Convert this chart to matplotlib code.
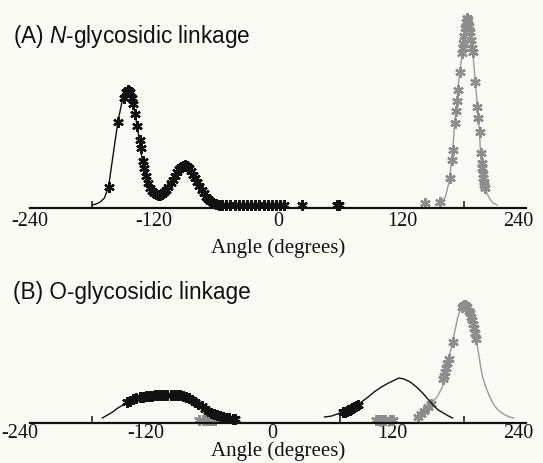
import numpy as np
import matplotlib
matplotlib.use("Agg")
import matplotlib.pyplot as plt
from matplotlib.transforms import ScaledTranslation

plt.rcParams["mathtext.fontset"] = "custom"
plt.rcParams["mathtext.rm"] = "Liberation Sans"
plt.rcParams["mathtext.it"] = "Liberation Sans:italic"

# ---------------- data (angle in degrees, relative density in a.u.) ----------------
tick_values = [-240, -120, 0, 120, 240]
tick_labels = ["-240", "-120", "0", "120", "240"]
minor_ticks = [-180, -120, 0, 60, 120, 180]

# Panel A: N-glycosidic linkage
a_black_x = [-180, -176, -172, -168, -164, -160, -155, -151, -148, -145, -142, -139, -136,
             -132, -128, -124, -120, -116, -112, -107, -102, -97, -93, -90, -87, -83, -79,
             -75, -71, -67, -62, -56, -45, -30, -15, 0]
a_black_y = [3, 4, 6, 10, 21, 50, 86, 106, 114, 118, 114, 98, 80,
             52, 30, 19, 15, 13, 14, 19, 28, 37, 42, 43, 41, 35, 27,
             20, 13, 8, 5, 3, 3, 2.5, 2.5, 2.5]
a_black_mx = [-164, -155, -149, -147, -145, -144, -143, -141, -140, -138, -136, -134, -133,
              -131, -130, -128, -126, -124, -122, -120, -118, -116, -114, -112, -110, -108,
              -106, -104, -102, -100, -98, -96, -94, -92, -90, -88, -86, -84, -82, -80, -78,
              -76, -74, -72, -70, -68, -66, -63, -60, -57, -54, -50, -46, -42, -38, -34, -30,
              -26, -22, -18, -14, -10, -6, -2, 2, 6, 23, 57, 59]
a_black_my = [21, 86, 110, 116, 118, 117, 116, 110, 104, 94, 82, 68, 60,
              47, 40, 32, 25, 20, 17, 15, 14, 13, 13, 14, 16, 18,
              21, 25, 28, 32, 36, 39, 41, 42.5, 43, 42, 40, 37, 33, 30, 26,
              22, 18, 15, 11, 9, 7, 5, 4, 3, 3, 3, 3, 3, 3, 3, 3,
              3, 3, 3, 3, 3, 3, 3, 3, 3, 3, 3, 3]

a_gray_x = [152, 157, 162, 166, 169, 171, 173, 174, 176, 179, 181, 183, 185, 188, 191, 193,
            194, 195, 196, 197, 198, 200, 202, 205, 208, 212]
a_gray_y = [3, 6, 11, 28, 58, 85, 105, 118, 136, 161, 183, 191, 180, 161, 126, 101,
            88, 75, 55, 41, 30, 21, 15, 9, 5, 3]
a_gray_mx = [142, 157, 166, 168, 169, 171, 172, 173, 174, 176, 178, 179, 179.5, 180, 181, 182,
             183, 184, 185, 186, 187, 188, 188.5, 191, 193, 194, 195, 196, 197, 197.5, 198,
             198.5, 199, 199.5, 200]
a_gray_my = [5, 6, 30, 48, 58, 85, 97, 107, 118, 136, 155, 160, 165, 172, 180, 186,
             190, 188, 182, 176, 168, 160, 156, 126, 101, 90, 76, 55, 45, 40, 34,
             30, 26, 23, 20]

# Panel B: O-glycosidic linkage
b_black1_x = [-170, -165, -160, -155, -150, -146, -140, -134, -126, -117, -110, -102, -95,
              -88, -82, -78, -74, -69, -64, -59, -54, -48, -42]
b_black1_y = [5, 8, 11, 15, 18, 21, 24, 26, 27, 28, 28.5, 28, 28,
              26, 23, 20, 17, 13, 10, 8, 6, 5, 4]
b_black1_mx = [-146, -143, -140, -137, -134, -131, -128, -125, -122, -119, -116, -113, -110,
               -107, -104, -101, -98, -95, -92, -89, -86, -83, -80, -77, -74, -71, -68,
               -65, -62, -59, -56, -53, -50, -47, -44, -42]
b_black1_my = [21, 22.5, 24, 25, 26, 26.5, 26.8, 27, 27.3, 27.6, 28, 28.2, 28.5,
               28.3, 28.1, 28, 28, 28, 27.5, 26.5, 25, 23, 21, 19, 17, 14.5, 12.5,
               10.5, 9, 8, 7, 6, 5.5, 5, 4.5, 4]

b_black2_x = [45, 52, 60, 66, 72, 78, 86, 93, 100, 107, 113, 117, 122, 128, 134, 140, 145,
              150, 155, 160, 165, 169]
b_black2_y = [6, 7, 10, 12, 15, 19, 25, 31, 36, 40, 43, 45, 44, 41, 36, 30, 24,
              18, 13, 10, 7, 5]
b_black2_mx = [63, 65, 67, 68, 70, 71, 72, 74, 75, 77]
b_black2_my = [11, 11.5, 12, 13, 13.5, 14, 15, 16, 17, 18]

b_gray_x = [133, 137, 140, 144, 147, 150, 154, 157, 159, 161, 163, 166, 169, 172, 174, 176,
            178, 181, 184, 186, 188, 191, 194, 196, 198, 201, 205, 209, 213, 218, 224, 228]
b_gray_y = [5, 8, 11, 15, 18, 22, 26, 32, 36, 45, 56, 68, 81, 96, 106, 112,
            116, 118, 115, 110, 105, 90, 70, 57, 46, 36, 26, 18, 13, 9, 6, 5]
b_gray_mx = [-76, -73, -70, -67, -64, -61, 95, 98, 101, 104, 108, 111,
             135, 138, 141, 145, 148, 160, 161, 162, 163, 164, 165, 169,
             178, 179, 180, 181, 182, 183, 185, 186, 187, 188, 189, 190, 191, 192]
b_gray_my = [3, 3, 3, 3, 3, 3, 3, 3, 3, 3, 3, 3,
             6, 9, 12, 16, 19, 44, 47, 51, 55, 60, 64, 81,
             116, 117, 118, 118, 117, 116, 112, 110, 106, 103, 99, 95, 90, 84]

# ---------------- styling ----------------
W, H = 543, 463
BG = "#fbfbf6"
BLACK = "#111111"
GRAY = "#999999"
GRAY_M = "#8e8e8e"
SERIF = ["Liberation Serif", "DejaVu Serif"]
ASTER = (6, 2, 0)

fig = plt.figure(figsize=(W / 100, H / 100), dpi=100)
fig.patch.set_facecolor(BG)


def make_axes(baseline_px, pad, label_shifts):
    ax = fig.add_axes([30 / W, (H - baseline_px) / H, 496 / W, 200 / H])
    ax.set_facecolor("none")
    ax.set_xlim(-240, 240)
    ax.set_ylim(0, 200)
    for s in ("top", "right", "left"):
        ax.spines[s].set_visible(False)
    ax.spines["bottom"].set_linewidth(1.6)
    ax.spines["bottom"].set_color(BLACK)
    ax.set_yticks([])
    ax.set_xticks(tick_values)
    ax.set_xticklabels(tick_labels, fontfamily=SERIF, fontsize=14.5)
    ax.set_xticks(minor_ticks, minor=True)
    ax.tick_params(axis="x", which="major", length=0, pad=pad, colors=BLACK)
    ax.tick_params(axis="x", which="minor", direction="in", length=5, width=1.1,
                   colors=BLACK)
    for lbl, dx in zip(ax.get_xticklabels(), label_shifts):
        lbl.set_transform(lbl.get_transform() + ScaledTranslation(dx / 100, 0, fig.dpi_scale_trans))
    ax.patch.set_visible(False)
    return ax


def draw(ax, x, y, mx, my, color, mcolor, z):
    ax.plot(x, y, color=color, lw=1.0, zorder=z, clip_on=False)
    ax.plot(mx, my, linestyle="none", marker=ASTER, markersize=7.5,
            markeredgewidth=1.7, markeredgecolor=mcolor, markerfacecolor=mcolor,
            zorder=z + 0.5, clip_on=False)


# Panel A
axA = make_axes(208, 3.2, [0, 0, 0, 0, -8])
draw(axA, a_black_x, a_black_y, a_black_mx, a_black_my, BLACK, BLACK, 3)
draw(axA, a_gray_x, a_gray_y, a_gray_mx, a_gray_my, GRAY, GRAY_M, 2)

# Panel B
axB = make_axes(423, 0.6, [-10, -8, -6, -10, -8])
draw(axB, b_gray_x, b_gray_y, b_gray_mx, b_gray_my, GRAY, GRAY_M, 2)
draw(axB, b_black1_x, b_black1_y, b_black1_mx, b_black1_my, BLACK, BLACK, 3)
draw(axB, b_black2_x, b_black2_y, b_black2_mx, b_black2_my, BLACK, BLACK, 3)

# Titles and axis labels
fig.text(13 / W, 1 - 36 / H, r"(A) $\mathit{N}$-glycosidic linkage",
         family="Liberation Sans", fontsize=16.3, color=BLACK, ha="left", va="center")
fig.text(13 / W, 1 - 293 / H, "(B) O-glycosidic linkage",
         family="Liberation Sans", fontsize=16.3, color=BLACK, ha="left", va="center")
fig.text(278 / W, 1 - 248 / H, "Angle (degrees)", family=SERIF, fontsize=15,
         color=BLACK, ha="center", va="center")
fig.text(278 / W, 1 - 451 / H, "Angle (degrees)", family=SERIF, fontsize=15,
         color=BLACK, ha="center", va="center")

fig.savefig("out.png", dpi=100, facecolor=BG)
